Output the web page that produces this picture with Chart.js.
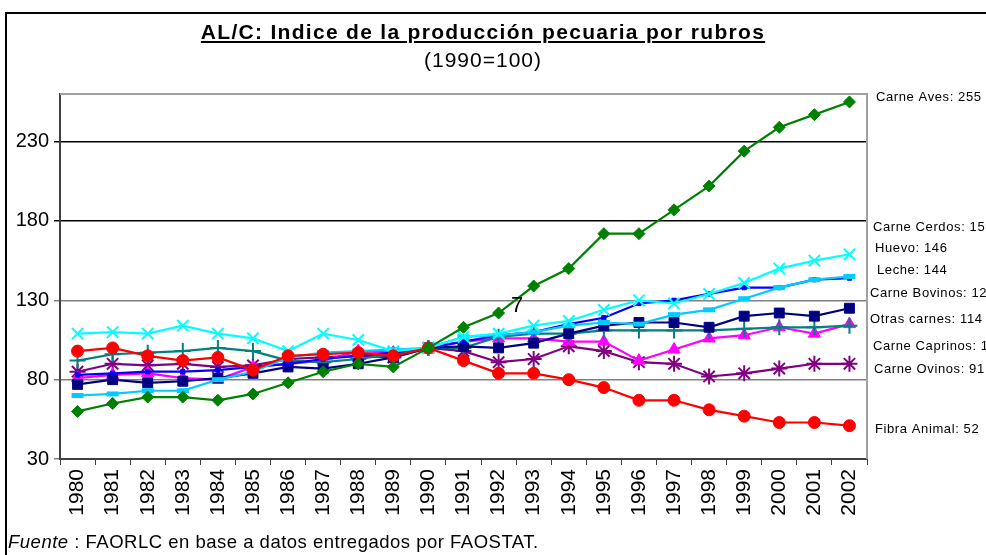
<!DOCTYPE html>
<html>
<head>
<meta charset="utf-8">
<script src="https://cdn.jsdelivr.net/npm/chart.js@4"></script>
<style>
  body { margin:0; background:#fff; font-family:'Liberation Sans', Arial, sans-serif; }
  #wrap { position:relative; width:986px; height:555px; overflow:hidden; }
  #frame { position:absolute; left:5px; top:12px; width:1000px; height:600px; border-left:2px solid #000; border-top:2px solid #000; }
  #cv { position:absolute; left:0; top:0; }
  .title { position:absolute; left:0; width:966px; text-align:center; color:#000; }
  #t1 { top:20px; font-size:21px; font-weight:bold; text-decoration:underline; letter-spacing:1.3px; }
  #t2 { top:48px; font-size:21px; letter-spacing:1px; }
  #src { position:absolute; left:8px; top:531px; font-size:18.5px; letter-spacing:0.5px; }
</style>
</head>
<body>
<div id="wrap">
  <div id="frame"></div>
  <canvas id="cv" width="986" height="555"></canvas>
  <div class="title" id="t1">AL/C: Indice de la producción pecuaria por rubros</div>
  <div class="title" id="t2">(1990=100)</div>
  <div id="src"><i>Fuente</i> : FAORLC en base a datos entregados por FAOSTAT.</div>
</div>
<script>
//______________________________________________________
var Years = ['1980','1981','1982','1983','1984','1985','1986','1987','1988','1989','1990',
             '1991','1992','1993','1994','1995','1996','1997','1998','1999','2000','2001','2002'];

var CarneAves     = [60, 65, 69, 69, 67, 71, 78, 85, 90, 88, 100, 113, 122, 139, 150, 172, 172, 187, 202, 224, 239, 247, 255];
var FibraAnimal   = [98, 100, 95, 92, 94, 86, 95, 96, 97, 95, 100, 92, 84, 84, 80, 75, 67, 67, 61, 57, 53, 53, 51];
var CarneCerdos   = [109, 110, 109, 114, 109, 106, 98, 109, 105, 98, 100, 107, 109, 114, 117, 124, 130, 128, 134, 141, 150, 155, 159];
var Huevo         = [70, 71, 73, 73, 80, 85, 94, 97, 98, 99, 100, 107, 108, 110, 114, 116, 115, 121, 124, 131, 138, 143, 145];
var Leche         = [83, 84, 85, 85, 86, 88, 90, 93, 95, 97, 100, 104, 108, 110, 115, 119, 128, 130, 134, 138, 138, 143, 144];
var CarneBovinos  = [77, 80, 78, 79, 81, 84, 88, 87, 90, 94, 100, 101, 100, 103, 109, 114, 116, 116, 113, 120, 122, 120, 125];
var OtrasCarnes   = [92, 96, 97, 98, 100, 98, 92, 91, 93, 96, 100, 100, 107, 109, 109, 111, 111, 111, 111, 112, 113, 113, 114];
var CarneCaprinos = [81, 83, 84, 81, 80, 88, 90, 92, 98, 97, 100, 104, 106, 106, 104, 104, 92, 99, 106, 108, 113, 109, 115];
var CarneOvinos   = [85, 90, 89, 90, 88, 89, 93, 94, 95, 94, 100, 98, 91, 93, 101, 98, 91, 90, 82, 84, 87, 90, 90];

var YTicks = [30, 80, 130, 180, 230];

// text at the right end of the lines (x, y in px)
var EndLabels = [
  ['Carne Aves: 255',     876,  97],
  ['Carne Cerdos: 159',   873, 227],
  ['Huevo: 146',          875, 248],
  ['Leche: 144',          877, 270],
  ['Carne Bovinos: 125',  870, 293],
  ['Otras carnes: 114',   870, 319],
  ['Carne Caprinos: 115', 873, 346],
  ['Carne Ovinos: 91',    874, 369],
  ['Fibra Animal: 52',    875, 429]
];
//______________________________________________________
function series (label, data, color, style, radius, bw) {
    return {
        label: label, data: data,
        borderColor: color, backgroundColor: color,
        borderWidth: 2.2,
        pointStyle: style, pointRadius: radius,
        pointBorderColor: color, pointBackgroundColor: color,
        pointBorderWidth: bw || 1,
        pointHoverRadius: radius
    };
}
//______________________________________________________
var framePlugin = { // plot border, end labels
    id: 'frame',
    beforeDatasetsDraw: function (chart) {
        var a = chart.chartArea, ctx = chart.ctx;
        ctx.save();
        ctx.strokeStyle = '#a0a0a0';
        ctx.lineWidth = 2;
        ctx.beginPath();
        ctx.moveTo(a.left, a.top); ctx.lineTo(a.right, a.top); ctx.lineTo(a.right, a.bottom);
        ctx.stroke();
        ctx.restore();
    },
    afterDraw: function (chart) {
        var ctx = chart.ctx;
        ctx.save();
        ctx.fillStyle = '#000';
        ctx.font = '13px "Liberation Sans", Arial';
        ctx.letterSpacing = '0.6px';
        ctx.textBaseline = 'middle';
        EndLabels.forEach(function (l) { ctx.fillText(l[0], l[1], l[2]); });
        ctx.letterSpacing = '0px';
        ctx.font = '22px "Liberation Sans", Arial';
        ctx.fillText('7', 511, 306);
        ctx.restore();
    }
};
//______________________________________________________
var chart = new Chart('cv', {
    type: 'line',
    data: {
        labels: Years,
        datasets: [
            series('Carne Aves', CarneAves, '#008000', 'rectRot', 6),
            series('Fibra Animal', FibraAnimal, '#ff0000', 'circle', 6),
            series('Carne Cerdos', CarneCerdos, '#00ffff', 'crossRot', 8, 2),
            series('Huevo', Huevo, '#00ccff', 'line', 6, 5),
            series('Leche', Leche, '#0000ff', 'rect', 3),
            series('Carne Bovinos', CarneBovinos, '#000080', 'rect', 7),
            series('Otras carnes', OtrasCarnes, '#008080', 'cross', 8, 2),
            series('Carne Caprinos', CarneCaprinos, '#ff00ff', 'triangle', 7),
            series('Carne Ovinos', CarneOvinos, '#800080', 'star', 8, 2)
        ]
    },
    options: {
        responsive: false,
        animation: false,
        events: [],
        layout: { padding: { top: 94, right: 119, left: 0, bottom: 0 } },
        plugins: { legend: { display: false }, title: { display: false }, tooltip: { enabled: false } },
        scales: {
            x: {
                offset: true,
                grid: { offset: true, drawOnChartArea: false, drawTicks: true, tickLength: 6, color: '#404040' },
                border: { color: '#404040', width: 2 },
                ticks: { color: '#000', font: { size: 21, family: '"Liberation Sans", Arial' },
                         minRotation: 90, maxRotation: 90, autoSkip: false, padding: 4 },
                afterFit: function (s) { s.height = 96; }
            },
            y: {
                min: 30, max: 260,
                afterBuildTicks: function (s) {
                    s.ticks = YTicks.map(function (v) { return { value: v }; });
                },
                grid: {
                    color: function (c) { return c.tick && c.tick.value >= 180 ? '#000' : '#808080'; },
                    lineWidth: 1.5, tickLength: 6
                },
                border: { color: '#404040', width: 2 },
                ticks: { color: '#000', font: { size: 20, family: '"Liberation Sans", Arial' }, padding: 5 },
                afterFit: function (s) { s.width = 60; }
            }
        }
    },
    plugins: [framePlugin]
});
//______________________________________________________
</script>
</body>
</html>
